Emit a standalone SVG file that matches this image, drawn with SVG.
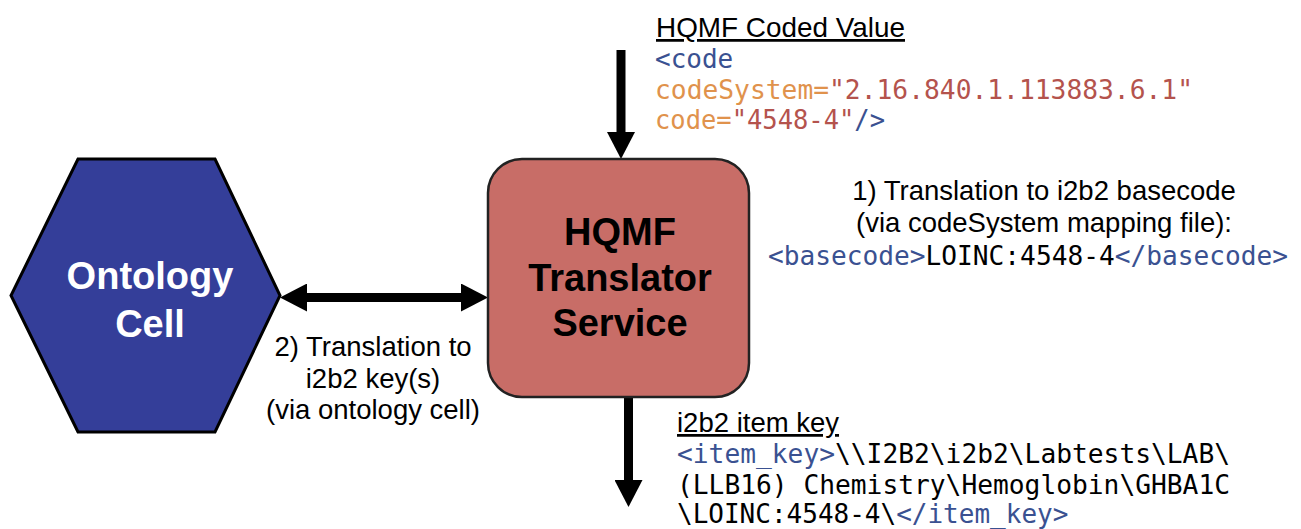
<svg xmlns="http://www.w3.org/2000/svg" width="1301" height="529" viewBox="0 0 1301 529">
<style>
.lbl{font-family:"Liberation Sans",Arial,sans-serif;font-size:27.5px;fill:#000}
.ul{text-decoration:underline}
.mono{font-family:"DejaVu Sans Mono","Liberation Mono",monospace;font-size:26px;fill:#000}
.tag{fill:#3a5191}
.attr{fill:#e0924c}
.val{fill:#b4534d}
.node{font-family:"Liberation Sans",Arial,sans-serif;font-weight:bold;font-size:38px;text-anchor:middle}
.conn{stroke:#000;stroke-width:9;fill:none}
</style>
<defs>
<marker id="ah" markerUnits="userSpaceOnUse" markerWidth="28" markerHeight="28" viewBox="0 0 27 28" refX="2" refY="14" orient="auto-start-reverse">
<path d="M0,0 L27,14 L0,28 z" fill="#000"/>
</marker>
</defs>
<rect width="1301" height="529" fill="#fff"/>
<g id="connectors">
<line class="conn" x1="621" y1="50" x2="621" y2="134" marker-end="url(#ah)"/>
<line class="conn" x1="628.5" y1="397" x2="628.5" y2="482" marker-end="url(#ah)"/>
<line class="conn" x1="305" y1="297.5" x2="463" y2="297.5" marker-start="url(#ah)" marker-end="url(#ah)"/>
</g>
<g id="ontology-cell">
<polygon points="78,159 215,159 280,295.5 215,432 78,432 11,295.5" fill="#343e99" stroke="#000" stroke-width="3"/>
<text class="node" x="150" y="289" fill="#fff">Ontology</text>
<text class="node" x="150" y="337" fill="#fff">Cell</text>
</g>
<g id="hqmf-translator">
<rect x="488" y="159" width="261" height="238" rx="34" ry="34" fill="#c86d67" stroke="#222" stroke-width="2.5"/>
<text class="node" x="620" y="245" fill="#000">HQMF</text>
<text class="node" x="620" y="291" fill="#000">Translator</text>
<text class="node" x="620" y="336" fill="#000">Service</text>
</g>
<g id="coded-value">
<text class="lbl ul" x="656" y="37" textLength="249" lengthAdjust="spacingAndGlyphs">HQMF Coded Value</text>
<text class="mono" x="655" y="68"><tspan class="tag">&lt;code</tspan></text>
<text class="mono" x="655" y="99" textLength="538" lengthAdjust="spacingAndGlyphs"><tspan class="attr">codeSystem=</tspan><tspan class="val">"2.16.840.1.113883.6.1"</tspan></text>
<text class="mono" x="655" y="129" textLength="230" lengthAdjust="spacingAndGlyphs"><tspan class="attr">code=</tspan><tspan class="val">"4548-4"</tspan><tspan class="tag">/&gt;</tspan></text>
</g>
<g id="basecode-note">
<text class="lbl" x="1044" y="200" text-anchor="middle">1) Translation to i2b2 basecode</text>
<text class="lbl" x="1044" y="232" text-anchor="middle">(via codeSystem mapping file):</text>
<text class="mono" x="768" y="265" textLength="520" lengthAdjust="spacingAndGlyphs"><tspan class="tag">&lt;basecode&gt;</tspan>LOINC:4548-4<tspan class="tag">&lt;/basecode&gt;</tspan></text>
</g>
<g id="key-note">
<text class="lbl" x="373" y="356" text-anchor="middle">2) Translation to</text>
<text class="lbl" x="373" y="388" text-anchor="middle">i2b2 key(s)</text>
<text class="lbl" x="373" y="419" text-anchor="middle">(via ontology cell)</text>
</g>
<g id="item-key">
<text class="lbl ul" x="677" y="432">i2b2 item key</text>
<text class="mono" x="677" y="463" textLength="553" lengthAdjust="spacingAndGlyphs"><tspan class="tag">&lt;item_key&gt;</tspan>\\I2B2\i2b2\Labtests\LAB\</text>
<text class="mono" x="677" y="494" textLength="553" lengthAdjust="spacingAndGlyphs">(LLB16) Chemistry\Hemoglobin\GHBA1C</text>
<text class="mono" x="677" y="523"><tspan>\LOINC:4548-4\</tspan><tspan class="tag">&lt;/item_key&gt;</tspan></text>
</g>
</svg>
